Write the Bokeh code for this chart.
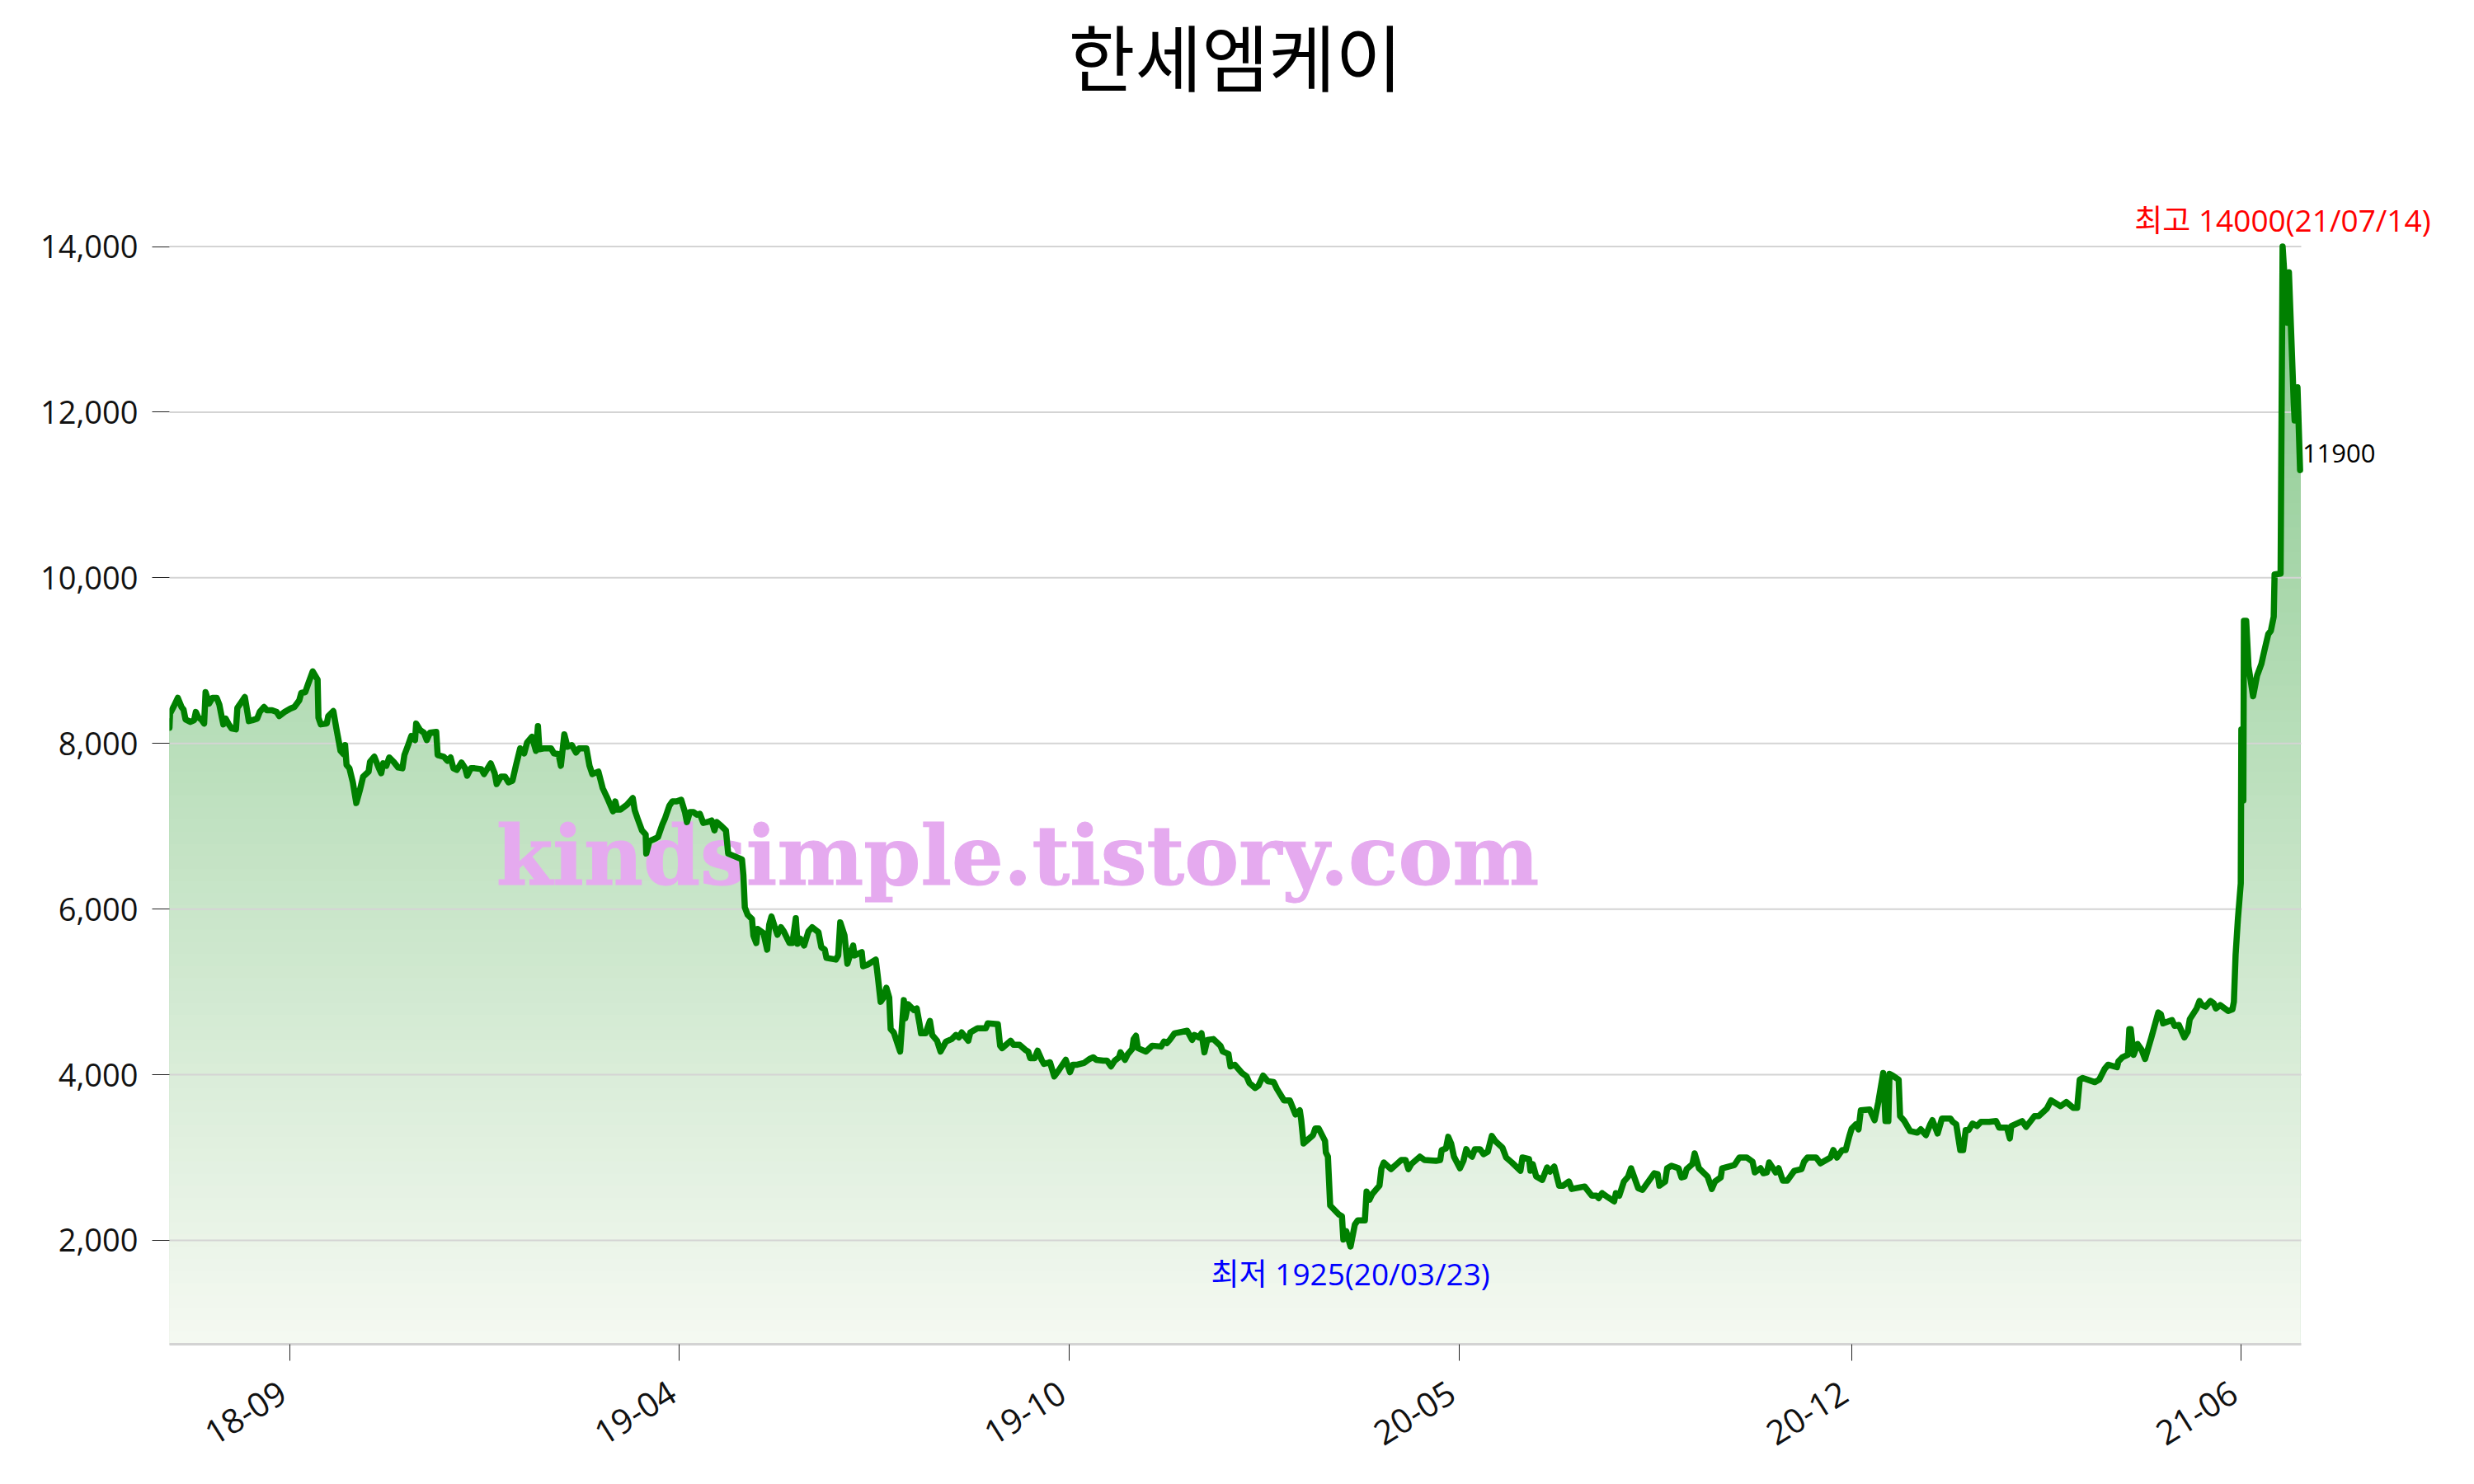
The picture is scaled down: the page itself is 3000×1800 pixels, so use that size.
import math
import numpy as np
from bokeh.plotting import figure
from bokeh.models import Range1d, FixedTicker, NumeralTickFormatter, Label
from bokeh.embed import file_html
from bokeh.resources import INLINE

# ---------------- data ----------------
chart_title = "한세엠케이"

# trading-day index (0 = first day shown) and closing price
day = [
    0.0, 0.2, 1.4, 2.9, 4.2, 4.9, 5.6, 7.3, 8.6, 9.2,
    10.1, 11.1, 12.1, 12.6, 13.8, 15.0, 16.5, 17.4, 18.3, 18.8,
    19.6, 20.7, 21.7, 23.2, 23.7, 25.1, 26.3, 27.7, 28.9, 30.6,
    31.5, 33.0, 34.0, 35.8, 37.4, 38.3, 40.2, 42.2, 43.6, 45.3,
    46.0, 47.4, 48.4, 50.0, 51.7, 52.0, 52.8, 54.9, 55.4, 57.2,
    58.2, 59.7, 60.8, 61.3, 61.8, 62.8, 64.0, 65.2, 66.4, 67.6,
    69.5, 70.0, 71.5, 73.1, 73.9, 74.6, 75.7, 76.7, 78.2, 79.8,
    81.3, 82.0, 83.4, 84.4, 85.7, 86.1, 87.5, 88.8, 89.8, 90.9,
    93.1, 93.6, 95.7, 97.0, 98.1, 99.1, 100.3, 101.9, 103.2, 103.9,
    105.2, 106.5, 108.8, 109.8, 112.1, 113.5, 114.2, 115.7, 117.1, 118.3,
    119.7, 120.9, 122.4, 123.8, 124.8, 126.5, 127.9, 128.6, 129.1, 130.6,
    133.2, 134.2, 135.8, 136.6, 137.8, 138.9, 140.4, 141.9, 143.0, 145.5,
    146.6, 147.6, 149.7, 151.2, 152.7, 154.8, 155.6, 156.3, 157.4, 159.7,
    160.7, 161.7, 162.4, 163.4, 164.9, 166.2, 166.4, 167.5, 169.5, 170.5,
    172.0, 173.0, 174.5, 175.5, 177.0, 178.6, 179.9, 180.6, 181.6, 182.9,
    184.1, 185.1, 186.3, 187.6, 189.2, 190.2, 191.0, 192.7, 194.2, 195.0,
    199.8, 200.3, 200.8, 201.8, 203.3, 203.8, 204.8, 205.3, 207.3, 208.6,
    209.3, 210.1, 211.2, 212.2, 213.4, 214.4, 216.4, 217.4, 218.6, 219.2,
    220.2, 221.5, 223.0, 224.3, 226.5, 227.5, 228.7, 229.3, 232.6, 233.4,
    234.1, 235.6, 236.6, 238.6, 239.1, 241.6, 242.1, 243.7, 246.5, 247.2,
    248.2, 249.2, 250.2, 251.2, 251.7, 252.8, 255.0, 256.3, 256.8, 257.8,
    259.8, 260.8, 261.8, 262.3, 263.9, 265.4, 266.2, 267.9, 269.1, 271.0,
    273.0, 274.5, 275.5, 276.5, 278.8, 279.5, 282.0, 284.9, 285.6, 289.1,
    289.9, 290.6, 293.6, 294.6, 296.7, 298.7, 299.7, 300.4, 302.0, 303.0,
    304.4, 305.2, 307.3, 308.8, 310.3, 312.8, 314.3,
    315.3, 316.8, 319.1, 321.1, 322.4, 323.4, 325.9, 327.2, 328.6, 329.9,
    331.4, 331.9, 333.5, 334.5, 336.0, 336.5, 337.3, 338.0, 340.8, 343.0,
    346.1, 347.1, 348.1, 349.1, 350.8, 355.2, 356.9, 357.7, 359.2, 360.2,
    361.2, 362.2, 364.3, 366.8, 367.6, 369.6, 370.3, 371.8, 374.3, 375.9,
    376.9, 378.9, 380.1, 381.7, 383.4, 385.4, 386.5, 389.0, 391.0, 393.0,
    394.5, 395.0, 395.8, 399.1, 399.9, 401.1, 403.3, 403.6, 404.3, 405.1,
    408.2, 409.2, 409.7, 410.7, 412.2, 413.7, 414.7, 417.2, 417.8, 418.8,
    419.8, 421.3, 422.3, 423.0, 423.8, 426.3, 428.3, 429.9, 431.4, 432.4,
    433.4, 436.4, 438.0, 442.0, 443.5, 444.0, 445.5, 446.3, 447.3, 448.3,
    450.4, 451.6, 452.6, 453.6, 454.6, 455.6, 457.4, 458.6, 460.1, 461.5,
    462.7, 465.2, 466.5, 468.5, 470.6,
    471.5, 472.2, 474.5, 475.0, 475.8, 477.0, 479.1, 480.8, 481.8, 483.3,
    485.0, 486.4, 488.4, 489.4, 493.9, 496.4, 498.0, 498.8, 500.0, 502.0,
    504.2, 504.8, 506.0, 507.6, 509.1, 510.1, 512.6, 514.1, 518.2, 519.4,
    520.0, 522.0, 522.7, 524.2, 526.7, 527.7, 528.8, 529.5, 531.5, 532.3,
    533.8, 536.8, 538.3, 539.4, 541.4, 541.9, 546.2, 547.9, 550.5, 552.5,
    553.3, 555.3, 556.3, 557.5, 558.3, 560.6, 561.6, 563.1, 564.6, 567.1,
    569.6, 570.5, 571.7, 574.7, 576.2, 579.7, 580.7, 582.0, 583.8, 585.0,
    586.3, 587.1, 588.6, 589.5, 590.3, 593.4, 595.1, 596.4, 598.1, 598.9,
    599.9, 600.3, 601.4, 603.5, 604.0, 605.5, 607.5, 610.0, 611.2, 613.0,
    614.4, 615.3, 617.1, 618.6, 621.6, 622.4, 623.6, 625.0, 626.0,
    626.9, 627.9, 629.3, 630.8, 632.2, 635.1, 637.5, 638.6, 641.3, 642.3,
    642.8, 646.6, 648.0, 650.9, 652.4, 655.2, 656.7, 660.0, 662.0, 664.4,
    665.8, 666.7, 667.7, 672.0, 673.5, 675.4, 676.6, 679.7, 680.2, 681.6,
    683.5, 684.0, 684.5, 685.5, 686.9, 688.3, 689.5, 691.7, 694.1, 695.0,
    695.8, 698.9, 699.8, 701.3, 703.2, 704.4, 705.1, 707.5, 708.5, 709.4,
    710.6, 712.3, 713.5, 714.2, 715.7, 718.5, 720.0, 720.5, 721.1, 721.9,
    722.9, 723.1, 723.5, 723.8, 724.0, 724.8, 725.6, 727.2, 728.6, 730.1,
    731.0, 732.5, 733.4, 734.4, 734.7, 736.8, 737.5, 739.2, 739.7, 741.4,
    741.7, 742.2, 742.7, 743.6,
]

price = [
    8190, 8360, 8440, 8550, 8440, 8410, 8290, 8260, 8280, 8380,
    8310, 8290, 8240, 8620, 8480, 8550, 8550, 8470, 8310, 8230,
    8300, 8230, 8180, 8170, 8430, 8500, 8560, 8270, 8280, 8300,
    8380, 8440, 8400, 8400, 8380, 8330, 8380, 8420, 8440, 8520,
    8610, 8620, 8720, 8870, 8770, 8310, 8230, 8240, 8330, 8390,
    8190, 7910, 7870, 7980, 7740, 7700, 7530, 7280, 7430, 7600,
    7660, 7780, 7840, 7700, 7640, 7760, 7730, 7830, 7780, 7710,
    7700, 7860, 7990, 8090, 8040, 8240, 8160, 8130, 8040, 8130,
    8140, 7860, 7840, 7790, 7830, 7700, 7680, 7770, 7700, 7610,
    7700, 7700, 7690, 7630, 7760, 7640, 7510, 7600, 7600, 7530,
    7550, 7730, 7940, 7880, 8010, 8080, 7910, 8210, 7930, 7940,
    7940, 7880, 7870, 7730, 8110, 7960, 7980, 7890, 7940, 7940,
    7730, 7630, 7660, 7460, 7350, 7180, 7300, 7200, 7200, 7260,
    7300, 7340, 7190, 7090, 6950, 6900, 6670, 6820, 6850, 6870,
    7020, 7100, 7250, 7300, 7300, 7320, 7170, 7050, 7170, 7170,
    7140, 7150, 7040, 7050, 7070, 6950, 7050, 7000, 6950, 6670,
    6600, 6410, 6020, 5930, 5880, 5680, 5590, 5760, 5710, 5510,
    5810, 5910, 5790, 5690, 5780, 5730, 5590, 5590, 5890, 5580,
    5640, 5560, 5730, 5780, 5720, 5540, 5510, 5410, 5390, 5440,
    5840, 5680, 5340, 5560, 5440, 5480, 5310, 5330, 5390, 5190,
    4880, 4930, 5050, 4930, 4550, 4510, 4280, 4900, 4680, 4850,
    4780, 4800, 4610, 4500, 4500, 4650, 4480, 4410, 4280, 4400,
    4430, 4480, 4450, 4510, 4410, 4510, 4560, 4560, 4620, 4610,
    4350, 4320, 4410, 4360, 4360, 4300, 4280, 4200, 4200, 4290,
    4180, 4130, 4150, 3980, 4050, 4180, 4030,
    4120, 4120, 4140, 4190, 4210, 4180, 4170, 4170, 4100, 4170,
    4210, 4270, 4180, 4250, 4310, 4430, 4470, 4320, 4280, 4350,
    4340, 4400, 4380, 4420, 4500, 4530, 4420, 4480, 4450, 4500,
    4270, 4420, 4430, 4350, 4280, 4250, 4100, 4120, 4020, 3980,
    3900, 3840, 3870, 3990, 3920, 3910, 3830, 3690, 3690, 3520,
    3570, 3450, 3170, 3270, 3350, 3350, 3200, 3060, 3010, 2420,
    2310, 2290, 2010, 2110, 1925, 2190, 2240, 2240, 2590, 2490,
    2560, 2620, 2660, 2870, 2940, 2860, 2920, 2970, 2970, 2860,
    2920, 3010, 2970, 2960, 2970, 3090, 3110, 3250, 3170, 3010,
    2870, 2960, 3100, 3040, 3010, 3100, 3100, 3040, 3070, 3260,
    3200, 3120, 3000, 2940, 2870,
    2840, 3000, 2980, 2840, 2920, 2770, 2730, 2880, 2830, 2890,
    2660, 2660, 2710, 2620, 2650, 2540, 2540, 2510, 2570, 2520,
    2470, 2570, 2540, 2710, 2770, 2870, 2630, 2610, 2810, 2800,
    2660, 2710, 2870, 2900, 2870, 2760, 2770, 2860, 2920, 3050,
    2870, 2770, 2620, 2710, 2760, 2870, 2910, 3000, 3000, 2950,
    2820, 2870, 2810, 2820, 2940, 2820, 2870, 2720, 2720, 2840,
    2860, 2950, 3000, 3000, 2930, 3000, 3090, 3000, 3090, 3090,
    3260, 3350, 3400, 3340, 3570, 3580, 3450, 3670, 4020, 3440,
    3440, 4010, 3990, 3940, 3500, 3440, 3320, 3300, 3340, 3270,
    3390, 3450, 3290, 3470, 3470, 3430, 3400, 3090, 3090,
    3330, 3330, 3410, 3380, 3430, 3430, 3440, 3360, 3360, 3230,
    3380, 3440, 3370, 3500, 3500, 3590, 3690, 3620, 3670, 3600,
    3600, 3940, 3960, 3910, 3940, 4070, 4120, 4090, 4160, 4210,
    4240, 4550, 4550, 4240, 4370, 4300, 4190, 4450, 4750, 4730,
    4620, 4660, 4590, 4600, 4450, 4520, 4670, 4800, 4890, 4840,
    4820, 4890, 4860, 4800, 4840, 4770, 4790, 4880, 5450, 5880,
    6310, 8170, 8170, 7310, 9480, 9480, 8930, 8570, 8820, 8960,
    9100, 9320, 9360, 9530, 10040, 10050, 14000, 13080, 13690, 12100,
    11900, 12050, 12300, 11300,
]

tick_days = [42, 178, 314, 450, 587, 723]
tick_labels = ["18-09", "19-04", "19-10", "20-05", "20-12", "21-06"]
y_ticks = [2000, 4000, 6000, 8000, 10000, 12000, 14000]

high_text = "최고 14000(21/07/14)"
low_text = "최저 1925(20/03/23)"
last_text = "11900"
watermark_text = "kindsimple.tistory.com"

# ---------------- figure ----------------
x = np.array(day, dtype=float)
y = np.array(price, dtype=float)
assert len(x) == len(y)

Y_MIN, Y_MAX = 745, 16972
DATA_END = 744                     # end of the plotted data area
X_MIN, X_MAX = 0, 802.14           # frame extends to the right edge for labels

p = figure(width=2992, height=1800, output_backend="svg", toolbar_location=None,
           title=None,
           x_range=Range1d(X_MIN, X_MAX), y_range=Range1d(Y_MIN, Y_MAX),
           min_border_left=205, min_border_right=0,
           min_border_top=0, min_border_bottom=170)
p.outline_line_color = None
p.background_fill_color = "white"
p.border_fill_color = "white"

# gradient fill under the line (stacked bands, drawn top band first)
nb = 90
edges = np.linspace(Y_MIN, 14000, nb + 1)
top_c = np.array([135, 200, 140])
bot_c = np.array([245, 249, 242])
for k in range(nb - 1, -1, -1):
    hi = edges[k + 1] if k < nb - 1 else Y_MAX
    t = ((edges[k] + edges[k + 1]) / 2 - Y_MIN) / (14000 - Y_MIN)
    c = bot_c + (top_c - bot_c) * t
    col = "#%02x%02x%02x" % tuple(int(round(v)) for v in c)
    p.varea(x=x, y1=Y_MIN, y2=np.minimum(y, hi), fill_color=col,
            fill_alpha=1.0, level="image")

# horizontal grid lines limited to the data area
p.xgrid.visible = False
p.ygrid.visible = False
p.segment(x0=[X_MIN] * len(y_ticks), x1=[DATA_END] * len(y_ticks),
          y0=y_ticks, y1=y_ticks, line_color="#d4d4d4", line_width=2,
          level="underlay")

p.line(x, y, line_color="#008000", line_width=7.5, line_join="round", line_cap="round")

# y axis
p.yaxis.ticker = FixedTicker(ticks=y_ticks)
p.yaxis.formatter = NumeralTickFormatter(format="0,0")
p.yaxis.axis_line_color = None
p.yaxis.major_tick_out = 21
p.yaxis.major_tick_in = 0
p.yaxis.minor_tick_line_color = None
p.yaxis.major_tick_line_color = "#222222"
p.yaxis.major_label_standoff = 17
p.yaxis.major_label_text_font = "Open Sans"
p.yaxis.major_label_text_font_size = "38px"
p.yaxis.major_label_text_color = "#111111"

# x axis (trailing space nudges the rotated labels slightly left of the tick)
p.xaxis.ticker = FixedTicker(ticks=tick_days)
p.xaxis.major_label_overrides = {d: s + " " for d, s in zip(tick_days, tick_labels)}
p.xaxis.bounds = (X_MIN, DATA_END)
p.xaxis.axis_line_color = "#d3d3d3"
p.xaxis.axis_line_width = 3
p.xaxis.major_tick_out = 20
p.xaxis.major_tick_in = 0
p.xaxis.minor_tick_line_color = None
p.xaxis.major_tick_line_color = "#222222"
p.xaxis.major_label_orientation = math.radians(32)
p.xaxis.major_label_standoff = 28
p.xaxis.major_label_text_font = "Open Sans"
p.xaxis.major_label_text_font_size = "41px"
p.xaxis.major_label_text_color = "#111111"

# watermark (under the line)
p.add_layout(Label(x=296, y=6640, text=watermark_text, text_align="center",
                   text_baseline="middle", text_font="DejaVu Serif",
                   text_font_style="bold", text_font_size="99px",
                   text_color="#e5aaef", text_outline_color="#e5aaef",
                   level="underlay"))

# title
p.add_layout(Label(x=DATA_END / 2, y=16325, text=chart_title,
                   text_align="center", text_baseline="middle",
                   text_font="Noto Sans CJK KR", text_font_size="88px",
                   text_color="#000000"))

# annotations for high / low / last
i_hi = int(np.argmax(y))
i_lo = int(np.argmin(y))
p.add_layout(Label(x=x[i_hi], y=y[i_hi] + 320, text=high_text,
                   text_align="center", text_baseline="middle",
                   text_font="Open Sans, Noto Sans CJK KR", text_font_size="37px",
                   text_color="#ff0000"))
p.add_layout(Label(x=x[i_lo], y=y[i_lo] - 325, text=low_text,
                   text_align="center", text_baseline="middle",
                   text_font="Open Sans, Noto Sans CJK KR", text_font_size="37px",
                   text_color="#0000ff"))
p.add_layout(Label(x=x[-1] + 0.8, y=y[-1] + 200, text=last_text,
                   text_align="left", text_baseline="middle",
                   text_font="Open Sans", text_font_size="31px",
                   text_color="#000000"))

open("out.html", "w").write(file_html(p, INLINE))
